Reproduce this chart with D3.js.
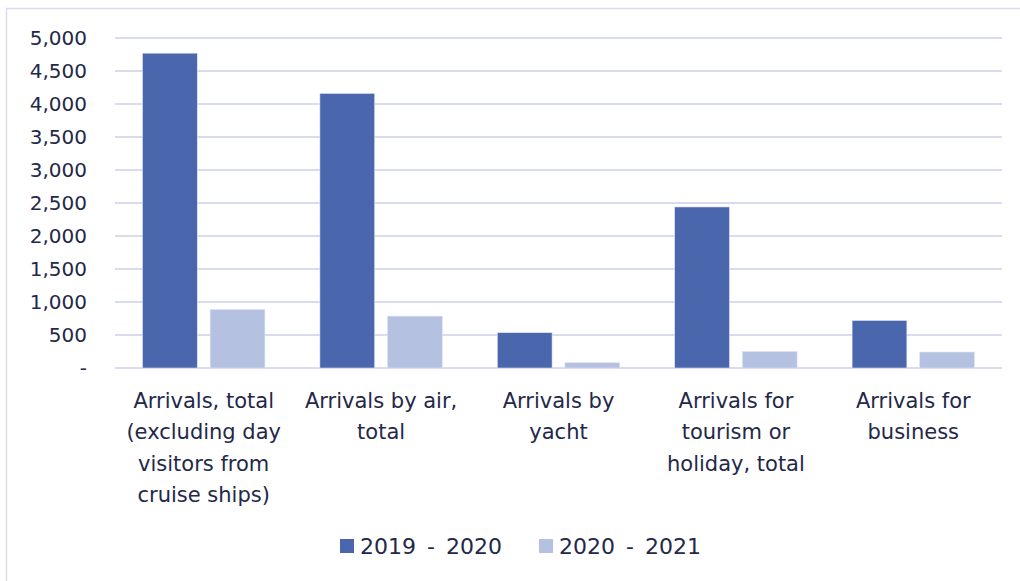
<!DOCTYPE html>
<html>
<head>
<meta charset="utf-8">
<script src="https://cdn.jsdelivr.net/npm/d3@7"></script>
<style>
  body { margin: 0; background: #fff; }
  text { font-family: "DejaVu Sans", sans-serif; fill: #232849; }
</style>
</head>
<body>
<div id="chart"></div>
<script>
// values (thousands of arrivals)
var categories = [
    ["Arrivals, total", "(excluding day", "visitors from", "cruise ships)"],
    ["Arrivals by air,", "total"],
    ["Arrivals by", "yacht"],
    ["Arrivals for", "tourism or", "holiday, total"],
    ["Arrivals for", "business"]
];
var seriesNames = ["2019 - 2020", "2020 - 2021"];
var values2019 = [4770, 4160, 535, 2440, 720];
var values2020 = [888, 786, 80, 250, 242];
var yTicks = [0, 500, 1000, 1500, 2000, 2500, 3000, 3500, 4000, 4500, 5000];
var colors = ["#4a66ad", "#b5c1e0"];

var width = 1020, height = 581;
var margin = {top: 38, right: 18, bottom: 213, left: 115};
var plot_w = width - margin.left - margin.right,
    plot_h = height - margin.top - margin.bottom;

var svg = d3.select("#chart").append("svg")
    .attr("width", width)
    .attr("height", height);

// outer frame (only top/left visible in the picture)
svg.append("path")
    .attr("d", "M6.5,581V8.5H1020")
    .attr("fill", "none")
    .attr("stroke", "#d9dbef")
    .attr("stroke-width", 1.5);

var g = svg.append("g")
    .attr("transform", "translate(" + margin.left + "," + margin.top + ")");

var idx = d3.range(categories.length);
var x0 = d3.scaleBand().domain(idx).range([0, plot_w]);
var step = x0.bandwidth();
var x1 = d3.scaleBand().domain([0, 1])
    .range([step * 0.155, step * 0.845])
    .paddingInner(0.19);

var y = d3.scaleLinear().domain([0, 5000]).range([plot_h, 0]);

// grid lines
g.append("g")
    .selectAll("line")
    .data(yTicks)
    .enter().append("line")
    .attr("x1", 0)
    .attr("x2", plot_w)
    .attr("y1", function(d) { return y(d); })
    .attr("y2", function(d) { return y(d); })
    .attr("stroke", "#d9dbef")
    .attr("stroke-width", 2);

// y axis labels
var yAxis = d3.axisLeft(y)
    .tickValues(yTicks)
    .tickSize(0)
    .tickPadding(28)
    .tickFormat(function(d) { return d === 0 ? "-" : d3.format(",")(d); });

var yg = g.append("g").call(yAxis);
yg.select(".domain").remove();
yg.selectAll("text")
    .attr("font-size", 20)
    .style("font-family", "'DejaVu Sans', sans-serif")
    .attr("fill", "#232849");

// bars
var table = idx.map(function(i) { return [values2019[i], values2020[i]]; });

var groups = g.selectAll(".grp")
    .data(table)
    .enter().append("g")
    .attr("class", "grp")
    .attr("transform", function(d, i) { return "translate(" + x0(i) + ",0)"; });

groups.selectAll("rect")
    .data(function(d) { return d; })
    .enter().append("rect")
    .attr("x", function(d, j) { return x1(j); })
    .attr("width", x1.bandwidth())
    .attr("y", function(d) { return y(d); })
    .attr("height", function(d) { return plot_h - y(d); })
    .attr("fill", function(d, j) { return colors[j]; })
    .attr("stroke", "#dfe4f3")
    .attr("stroke-width", 0.6);

// category labels
var lab = g.selectAll(".cat")
    .data(categories)
    .enter().append("text")
    .attr("class", "cat")
    .attr("text-anchor", "middle")
    .attr("font-size", 21)
    .attr("transform", function(d, i) {
        return "translate(" + (x0(i) + step / 2) + "," + (plot_h + 40) + ")";
    });

lab.selectAll("tspan")
    .data(function(d) { return d; })
    .enter().append("tspan")
    .attr("x", 0)
    .attr("y", function(d, k) { return k * 31.3; })
    .text(function(d) { return d; });

// legend
var legend = svg.append("g").attr("transform", "translate(340,554)");
var lx = [0, 199];
seriesNames.forEach(function(name, j) {
    legend.append("rect")
        .attr("x", lx[j])
        .attr("y", -15)
        .attr("width", 14)
        .attr("height", 14)
        .attr("fill", colors[j]);
    legend.append("text")
        .attr("x", lx[j] + 20)
        .attr("y", 0)
        .attr("font-size", 22)
        .attr("word-spacing", 4)
        .text(name);
});
</script>
</body>
</html>
